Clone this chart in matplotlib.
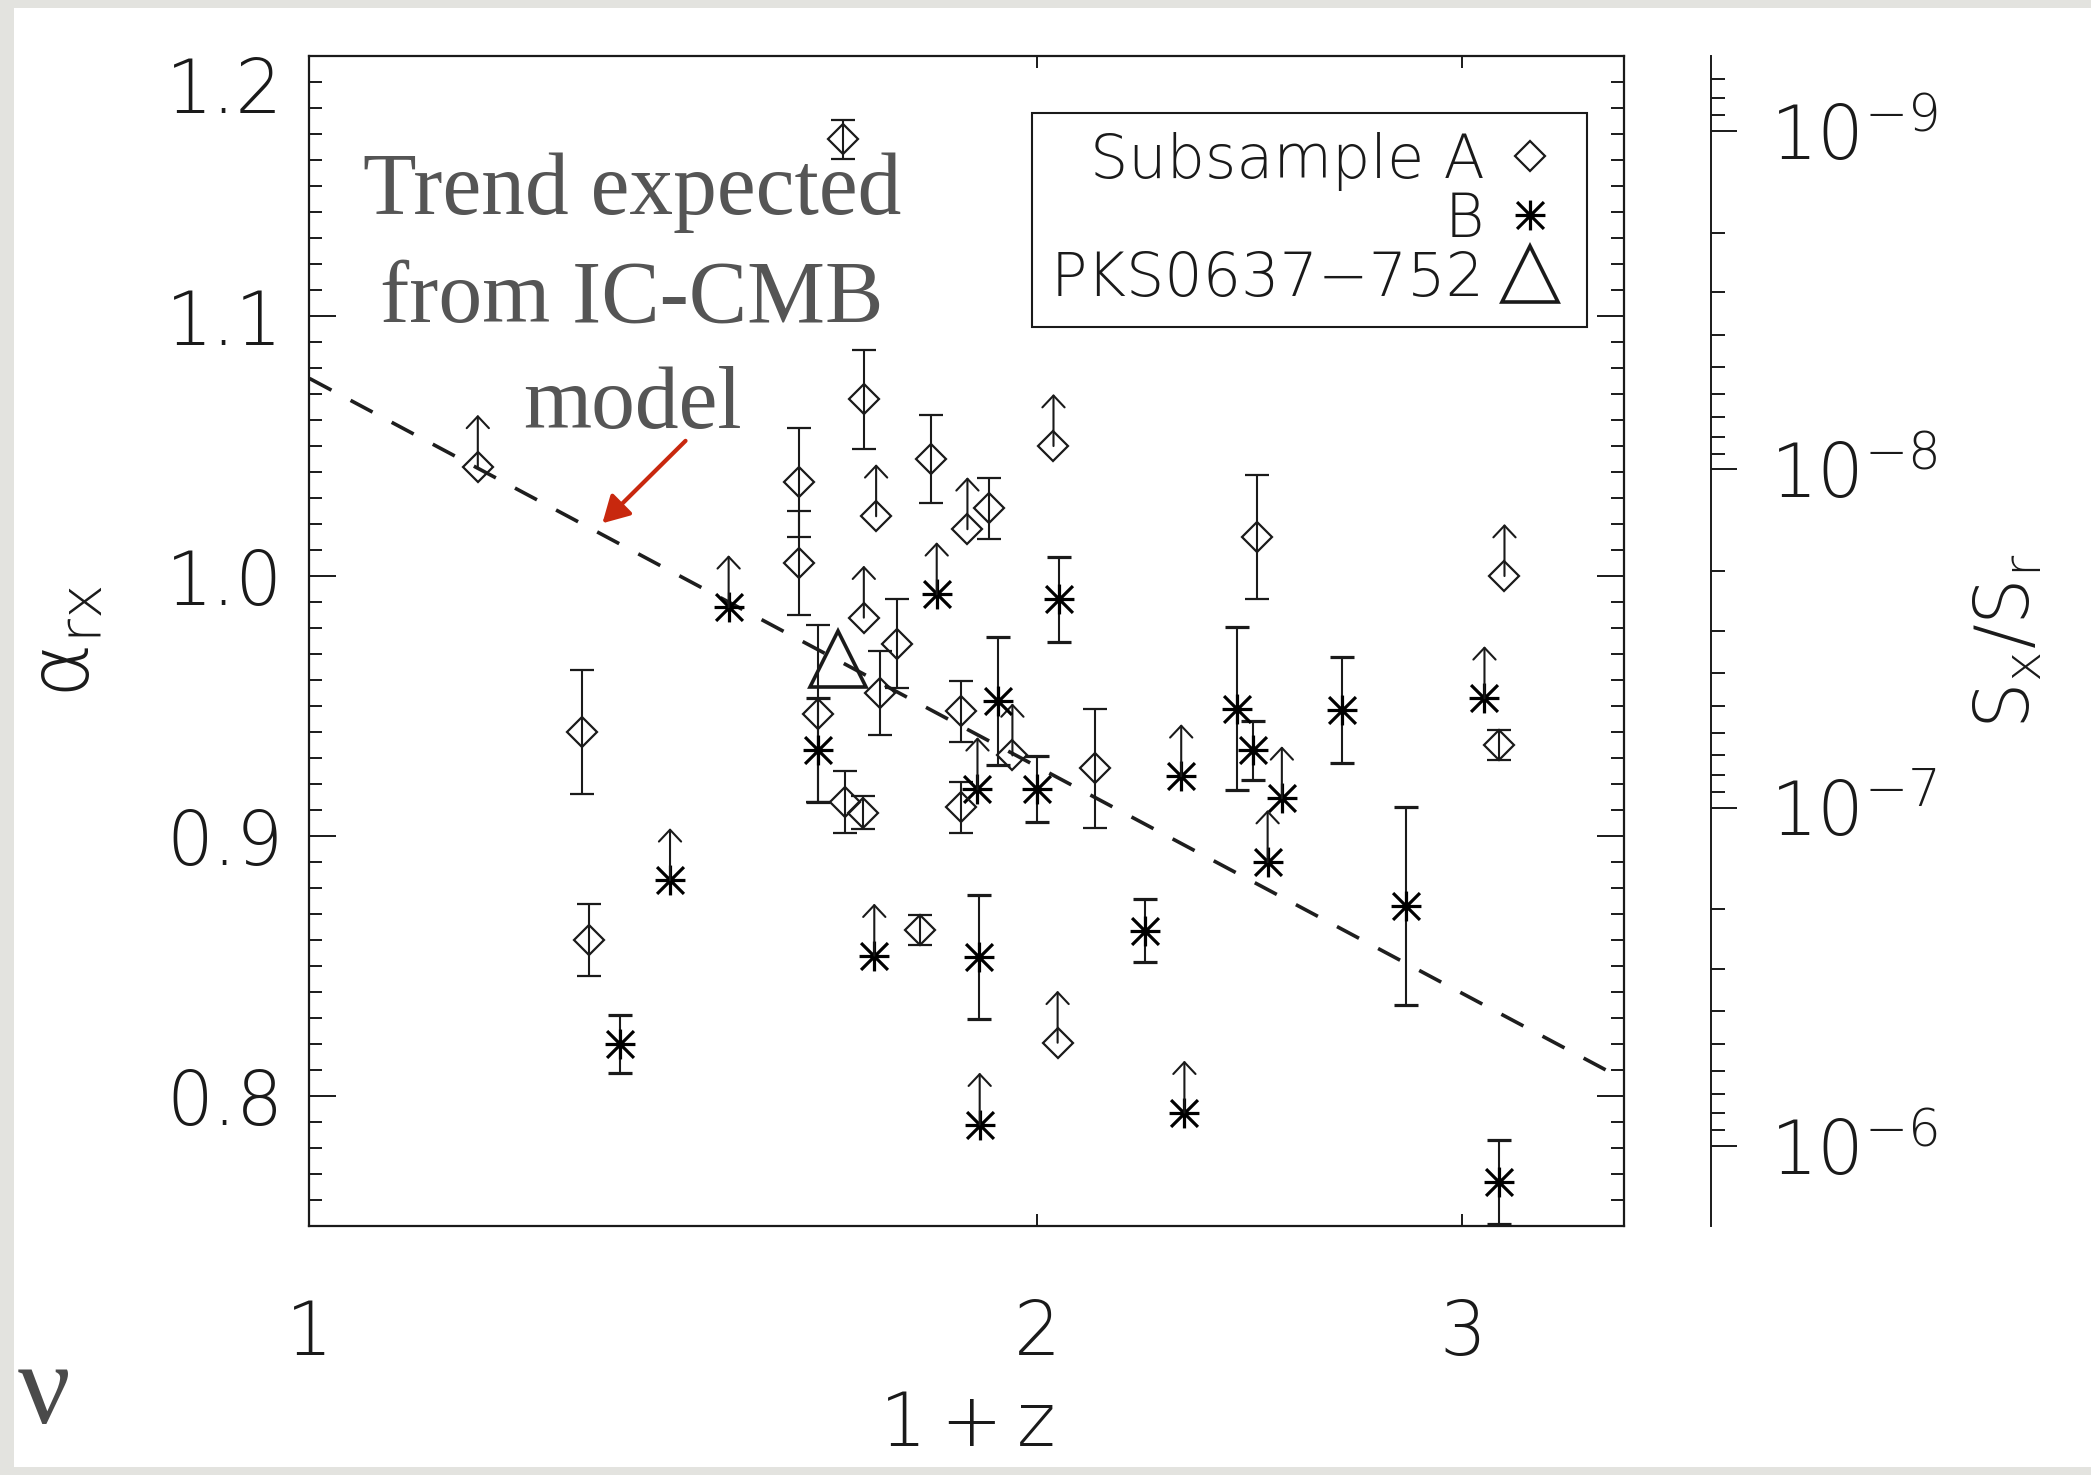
import numpy as np
import matplotlib
matplotlib.use('Agg')
import matplotlib.pyplot as plt
from matplotlib.lines import Line2D
from matplotlib.path import Path
from matplotlib.patches import Rectangle
from matplotlib.ticker import MultipleLocator, NullLocator, FixedLocator, FuncFormatter, NullFormatter

## valeurs (x = 1+z, y = alpha_rx)
# sous-echantillon A, detections avec barres d'erreur
a_z = [1.663, 1.296, 1.305, 1.594, 1.594, 1.697, 1.808, 1.911, 1.751, 1.722,
       1.623, 1.666, 1.695, 1.860, 1.860, 1.790, 2.114, 2.467, 3.107]
a_alpha = [1.168, 0.940, 0.860, 1.036, 1.005, 1.068, 1.045, 1.026, 0.974, 0.955,
           0.947, 0.913, 0.909, 0.948, 0.911, 0.864, 0.926, 1.015, 0.935]
a_err = [0.0075, 0.024, 0.0137, 0.021, 0.020, 0.019, 0.017, 0.0116, 0.017, 0.016,
         0.034, 0.012, 0.0063, 0.0118, 0.0097, 0.0058, 0.023, 0.024, 0.0058]
# sous-echantillon A, limites inferieures
a_lim_z = [1.174, 1.716, 1.872, 2.032, 1.696, 1.954, 2.040, 3.123]
a_lim_alpha = [1.042, 1.023, 1.018, 1.050, 0.984, 0.931, 0.8205, 1.000]

# sous-echantillon B
b_z = [1.623, 1.344, 2.043, 1.928, 2.001, 1.892, 2.217, 2.420, 2.457, 2.675, 2.843, 3.108]
b_alpha = [0.933, 0.820, 0.991, 0.952, 0.918, 0.8535, 0.8636, 0.949, 0.933, 0.9485, 0.873, 0.767]
b_err = [0.020, 0.011, 0.0163, 0.0245, 0.0127, 0.0237, 0.0122, 0.0314, 0.0113, 0.0203, 0.038, 0.0162]
b_lim_z = [1.491, 1.410, 1.818, 1.713, 1.890, 1.894, 2.295, 2.302, 2.526, 2.492, 3.064]
b_lim_alpha = [0.988, 0.883, 0.993, 0.854, 0.918, 0.789, 0.923, 0.7936, 0.9145, 0.890, 0.953]

# PKS0637-752
pks_z = [1.654]
pks_alpha = [0.968]

# tendance IC-CMB
trend_z = [1.0, 3.44]
trend_alpha = [1.076, 0.810]

y_ticks = [0.8, 0.9, 1.0, 1.1, 1.2]
x_ticks = [1, 2, 3]
x_ticklabels = ['1', '2', '3']
s_decades = [-9, -8, -7, -6]  # graduations de Sx/Sr

K = 7.6845  # log10(nu_x/nu_r), 1 keV / 5 GHz
lim_len = 0.02  # longueur des fleches de limite
ylim = (0.75, 1.2)

plt.rcParams['font.family'] = ['DejaVu Sans']
plt.rcParams['font.weight'] = 'light'
plt.rcParams['axes.labelweight'] = 'light'
plt.rcParams['mathtext.default'] = 'regular'

ink = '#1a1a1a'

fig = plt.figure(figsize=(20.91, 14.75), dpi=100, facecolor='#e3e3df')
fig.add_artist(Rectangle((0.0067, 0.0054), 0.9933, 0.9892, transform=fig.transFigure,
                         facecolor='white', edgecolor='none', zorder=-5))
ax = fig.add_axes([0.148, 0.1688, 0.6287, 0.7932])

ax.set_xscale('log')
ax.set_xlim(1, 3.5)
ax.set_ylim(*ylim)
ax.set_xticks(x_ticks, labels=x_ticklabels)
ax.xaxis.set_minor_locator(NullLocator())
ax.set_yticks(y_ticks)
ax.yaxis.set_minor_locator(MultipleLocator(0.01))
ax.yaxis.set_major_formatter(FuncFormatter(lambda v, p: '%.1f' % v))
for s in ax.spines.values():
    s.set_linewidth(1.6)
    s.set_color(ink)
ax.tick_params(which='both', direction='in', top=True, right=True, color=ink,
               labelcolor=ink, labelsize=53, width=1.4)
ax.tick_params(axis='y', which='major', length=19.5, pad=19)
ax.tick_params(axis='y', which='minor', length=9.5)
ax.tick_params(axis='x', which='major', length=8.6, pad=52)
ax.get_yticklabels()[-1].set_verticalalignment('top')

# ligne de tendance
ax.plot(trend_z, trend_alpha, ls=(0, (6.9, 6.0)), color='#1e1e1e', lw=2.6, zorder=1)

# asterisque a 8 branches (style IDL)
c = 0.9
star = Path([(0, -1), (0, 1), (-1, 0), (1, 0), (-c, -c), (c, c), (-c, c), (c, -c)],
            [Path.MOVETO, Path.LINETO] * 4)

ms_d = 14.8
ms_s = 21.5
eb = dict(ecolor=ink, elinewidth=1.5, capsize=8.3, capthick=1.5)

ax.errorbar(a_z, a_alpha, yerr=a_err, fmt='D', ms=ms_d, mfc='none', mec=ink, mew=1.6, zorder=3, **eb)
ax.plot(a_lim_z, a_lim_alpha, ls='none', marker='D', ms=ms_d, mfc='none', mec=ink, mew=1.6, zorder=3)
ax.errorbar(b_z, b_alpha, yerr=b_err, fmt='', ls='none', marker=star, ms=ms_s, mfc='none',
            mec='k', mew=2.3, zorder=3, **eb)
ax.plot(b_lim_z, b_lim_alpha, ls='none', marker=star, ms=ms_s, mfc='none', mec='k', mew=2.3, zorder=3)
ax.plot(pks_z, pks_alpha, ls='none', marker='^', ms=40, mfc='none', mec=ink, mew=2.6, zorder=4)

# fleches des limites inferieures
for xx, yy in zip(a_lim_z + b_lim_z, a_lim_alpha + b_lim_alpha):
    ax.annotate('', xy=(xx, yy + lim_len), xytext=(xx, yy),
                arrowprops=dict(arrowstyle='->,head_length=0.85,head_width=0.8', lw=1.5,
                                color=ink, shrinkA=0, shrinkB=0, mutation_scale=10))

# annotation du modele
ax.text(0.2454, 0.7917, 'Trend expected\nfrom IC-CMB\nmodel', transform=ax.transAxes,
        ha='center', va='center', multialignment='center', family='Liberation Serif',
        fontweight='normal', fontsize=63, color='#555555', linespacing=1.42)
ax.annotate('', xy=(1.322, 1.0203), xytext=(1.431, 1.052),
            arrowprops=dict(arrowstyle='-|>,head_length=0.8,head_width=0.45', lw=3,
                            color='#c8280e', shrinkA=0, shrinkB=0, mutation_scale=20))

# legende
h_a = Line2D([], [], ls='none', marker='D', ms=ms_d, mfc='none', mec=ink, mew=1.6)
h_b = Line2D([], [], ls='none', marker=star, ms=ms_s, mfc='none', mec='k', mew=2.3)
h_p = Line2D([], [], ls='none', marker='^', ms=40, mfc='none', mec=ink, mew=2.6)
leg = ax.legend([h_a, h_b, h_p], ['Subsample A', 'B', 'PKS0637\u2212752'], markerfirst=False,
                loc='upper right', bbox_to_anchor=(0.9719, 0.951), borderaxespad=0,
                fontsize=43.5, handlelength=1.3, handletextpad=0.1, labelspacing=0.0,
                borderpad=0.3, fancybox=False, edgecolor=ink, framealpha=1)
leg.get_frame().set_linewidth(1.5)
for t in leg.get_texts():
    t.set_color(ink)

# axe de droite : Sx/Sr
sec = ax.secondary_yaxis(1.0662, functions=(lambda a: 10.0 ** (-K * np.asarray(a)),
                                             lambda s: -np.log10(np.clip(s, 1e-300, None)) / K))
s_lo, s_hi = 10.0 ** (-K * ylim[1]), 10.0 ** (-K * ylim[0])
s_minor = [m * 10.0 ** d for d in range(-10, -5) for m in range(2, 10)]
s_minor = [v for v in s_minor if s_lo <= v <= s_hi]
sec.yaxis.set_major_locator(FixedLocator([10.0 ** d for d in s_decades]))
sec.yaxis.set_minor_locator(FixedLocator(s_minor))
sec.yaxis.set_major_formatter(FuncFormatter(lambda s, p: r'$10^{%d}$' % round(np.log10(s))))
sec.yaxis.set_minor_formatter(NullFormatter())
sec.tick_params(which='both', direction='out', color=ink, labelcolor=ink, width=1.4)
sec.tick_params(which='major', length=18.7, pad=24, labelsize=53)
sec.tick_params(which='minor', length=10)
sec.spines['right'].set_linewidth(1.4)
sec.spines['right'].set_color(ink)
sec.set_ylabel(r'$S_x/S_r$', fontsize=53, labelpad=25, color=ink)

ax.set_ylabel(r'$\alpha_{rx}$', fontsize=60, color=ink)
ax.yaxis.set_label_coords(-0.154, 0.5)
ax.set_xlabel(r'$1+z$', fontsize=53, color=ink)
ax.xaxis.set_label_coords(0.5, -0.139)

# reste de la diapositive
fig.text(18 / 2091, 1 - 1423 / 1475, '\u03bd', family='Liberation Serif', fontweight='normal',
         fontsize=84, color='#4a4a4a', ha='left', va='baseline')

fig.savefig('out.png', dpi=100, facecolor=fig.get_facecolor())
